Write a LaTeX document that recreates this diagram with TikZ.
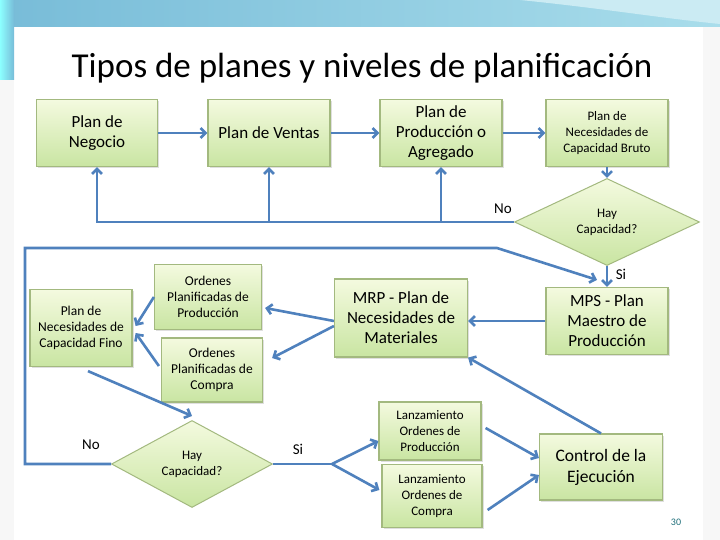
\documentclass[tikz,border=0pt]{standalone}
\usepackage{fontspec}
\setmainfont{Carlito}
\usetikzlibrary{shapes.geometric,arrows.meta,shadows}

\definecolor{flowblue}{HTML}{4F81BD}
\definecolor{boxline}{HTML}{A3B97F}
\definecolor{boxtop}{HTML}{F4FADF}
\definecolor{boxbot}{HTML}{C9E5A2}
\definecolor{bandleft}{HTML}{78BCD8}
\definecolor{bandright}{HTML}{A9DDEB}
\definecolor{numteal}{HTML}{1F6F7A}

\begin{document}
\begin{tikzpicture}[x=1pt,y=-1pt,
  planbox/.style={draw=boxline, line width=1.2pt, top color=boxtop, bottom color=boxbot, align=center, inner sep=2pt,
    drop shadow={shadow xshift=1.5pt, shadow yshift=-1.5pt, opacity=0.25}},
  decision/.style={diamond, draw=boxline, line width=1pt, top color=boxtop, bottom color=boxbot, align=center, inner sep=0pt},
  flow/.style={draw=flowblue, line width=2.6pt, -{Straight Barb[length=5pt,width=10pt]}},
  link/.style={draw=flowblue, line width=2.6pt},
  answer/.style={font=\fontsize{15}{15}\selectfont}]
  \useasboundingbox (0,0) rectangle (720,540);
  \fill[white] (0,0) rectangle (720,540);
  \fill[left color=bandleft, right color=bandright] (0,0) rectangle (720,27);
  \fill[left color=cyan!45, right color=bandleft] (0,0) rectangle (14,80);
  \fill[bandright!60!white] (520,0) .. controls (600,8) and (660,18) .. (720,24) -- (720,0) -- cycle;
  \fill[gray!6] (0,80) rectangle (14,540);
  \fill[gray!6] (703,27) rectangle (720,540);
  \node[font=\fontsize{35}{35}\selectfont, anchor=base] (title) at (362,78) {Tipos de planes y niveles de planificación};

  \node[planbox, minimum width=121pt, minimum height=67pt, font=\fontsize{17}{20}\selectfont] (negocio) at (97,133) {Plan de\\Negocio};
  \node[planbox, minimum width=122pt, minimum height=67pt, font=\fontsize{17}{20}\selectfont] (ventas) at (269,133) {Plan de Ventas};
  \node[planbox, minimum width=122pt, minimum height=67pt, font=\fontsize{17}{20}\selectfont] (prod) at (441,133) {Plan de\\Producción o\\Agregado};
  \node[planbox, minimum width=122pt, minimum height=67pt, font=\fontsize{13}{16}\selectfont] (bruto) at (607,133) {Plan de\\Necesidades de\\Capacidad Bruto};
  \node[decision, minimum width=185pt, minimum height=77pt, font=\fontsize{13}{16}\selectfont] (dia1) at (607,222) {Hay\\Capacidad?};
  \node[planbox, minimum width=122pt, minimum height=67pt, font=\fontsize{17}{20}\selectfont] (mps) at (607,321) {MPS - Plan\\Maestro de\\Producción};
  \node[planbox, minimum width=133pt, minimum height=78pt, font=\fontsize{17}{20}\selectfont] (mrp) at (401,318) {MRP - Plan de\\Necesidades de\\Materiales};
  \node[planbox, minimum width=107pt, minimum height=65pt, font=\fontsize{13.5}{16}\selectfont] (opp) at (208,297) {Ordenes\\Planificadas de\\Producción};
  \node[planbox, minimum width=101pt, minimum height=64pt, font=\fontsize{13.5}{16}\selectfont] (opc) at (212,370) {Ordenes\\Planificadas de\\Compra};
  \node[planbox, minimum width=102pt, minimum height=77pt, font=\fontsize{13.5}{16}\selectfont] (fino) at (81,328) {Plan de\\Necesidades de\\Capacidad Fino};
  \node[decision, minimum width=161pt, minimum height=77pt, font=\fontsize{13}{16}\selectfont] (dia2) at (192,464) {Hay\\Capacidad?};
  \node[planbox, minimum width=102pt, minimum height=58pt, font=\fontsize{13}{16}\selectfont] (lop) at (430,431) {Lanzamiento\\Ordenes de\\Producción};
  \node[planbox, minimum width=100pt, minimum height=63pt, font=\fontsize{13}{16}\selectfont] (loc) at (432,496) {Lanzamiento\\Ordenes  de\\Compra};
  \node[planbox, minimum width=123pt, minimum height=66pt, font=\fontsize{17.5}{21}\selectfont] (ctrl) at (601,467) {Control de la\\Ejecución};

  \draw[flow] (negocio) -- (ventas);
  \draw[flow] (ventas) -- (prod);
  \draw[flow] (prod) -- (bruto);
  \draw[flow] (bruto) -- (dia1);
  \draw[flow] (dia1.west) -| (negocio.south);
  \draw[flow] (dia1.west) -| (ventas.south);
  \draw[flow] (dia1.west) -| (prod.south);
  \node[answer] (no1) at (503,209) {No};
  \draw[flow] (dia1) -- (mps);
  \node[answer] (si1) at (621,274) {Si};
  \draw[flow] (mps.west) -- (mps.west -| mrp.east);
  \draw[flow] ([yshift=-3pt]mrp.west) -- ([xshift=3pt,yshift=-11pt]opp.east);
  \draw[flow] ([yshift=-8pt]mrp.west) -- ([xshift=9pt,yshift=12pt]opc.east);
  \draw[flow] (opp.west) -- ([xshift=3pt,yshift=2pt]fino.east);
  \draw[flow] ([xshift=-2pt,yshift=4pt]opc.west) -- ([xshift=3pt,yshift=-5pt]fino.east);
  \draw[flow] ([xshift=7pt,yshift=-4pt]fino.south) -- ([yshift=4pt]dia2.north);
  \coordinate (c1) at (25,248);
  \coordinate (c2) at (497,248);
  \draw[flow] (dia2.west) -| (c1) -- (c2) -- ([xshift=-10pt,yshift=7pt]mps.north);
  \node[answer] (no2) at (91,445) {No};
  \coordinate (fork) at (332,464);
  \draw[link] (dia2.east) -- (fork);
  \draw[flow] (fork) -- ([yshift=-10pt]lop.west);
  \draw[flow] (fork) -- ([xshift=-2pt,yshift=6pt]loc.west);
  \node[answer] (si2) at (298,449) {Si};
  \draw[flow] ([xshift=4pt,yshift=3pt]lop.east) -- ([yshift=9pt]ctrl.west);
  \draw[flow] ([xshift=5pt,yshift=-14pt]loc.east) -- ([yshift=-8pt]ctrl.west);
  \draw[flow] (ctrl.north) -- (mrp.south east);
  \node[font=\fontsize{10}{10}\selectfont, text=numteal] (pagenum) at (676,522) {30};
\end{tikzpicture}
\end{document}
